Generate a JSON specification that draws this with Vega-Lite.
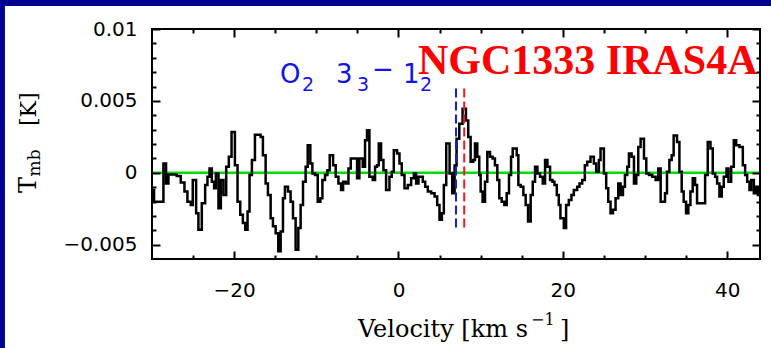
{
  "$schema": "https://vega.github.io/schema/vega-lite/v6.json",
  "width": 608,
  "height": 230,
  "autosize": {"type": "none"},
  "padding": {"left": 152, "top": 29, "right": 11, "bottom": 89},
  "background": "#000090",
  "config": {
    "view": {"stroke": null},
    "axis": {"grid": false, "domain": false, "ticks": true, "tickColor": "black", "tickWidth": 2, "tickOpacity": 1, "labelColor": "black", "labelFont": "DejaVu Sans", "labelFontSize": 20}
  },
  "resolve": {"axis": {"x": "independent", "y": "independent"}},
  "layer": [
    {
      "data": {"values": [{}]},
      "mark": {"type": "rect", "fill": "white"},
      "encoding": {
        "x": {"datum": -47.9, "axis": null},
        "x2": {"datum": 46},
        "y": {"datum": 0.0116, "axis": null},
        "y2": {"datum": -0.014}
      }
    },
    {
      "data": {"values": [{}]},
      "mark": {"type": "rule", "color": "#00dd00", "strokeWidth": 2.5},
      "encoding": {
        "x": {"datum": -30, "axis": {"zindex": 1, "orient": "bottom", "values": [-25, -15, -10, -5, 5, 10, 15, 25, 30, 35], "labels": false, "ticks": true, "tickSize": 4, "offset": -4, "title": null}},
        "x2": {"datum": 44},
        "y": {"datum": 0, "axis": {"zindex": 1, "orient": "left", "values": [-0.004, -0.003, -0.002, -0.001, 0.001, 0.002, 0.003, 0.004, 0.006, 0.007, 0.008, 0.009], "labels": false, "ticks": true, "tickSize": 4, "offset": -4, "title": null}}
      }
    },
    {
      "data": {"values": [
        {"velocity": -30.00, "tmb": -0.00120}, {"velocity": -29.75, "tmb": -0.00201}, {"velocity": -28.61, "tmb": 0.00065}, {"velocity": -28.29, "tmb": -0.00074},
        {"velocity": -28.00, "tmb": -0.00012}, {"velocity": -26.99, "tmb": -0.00023}, {"velocity": -26.50, "tmb": -0.00067}, {"velocity": -26.05, "tmb": -0.00131},
        {"velocity": -25.69, "tmb": -0.00201}, {"velocity": -25.28, "tmb": -0.00224}, {"velocity": -25.04, "tmb": -0.00051}, {"velocity": -24.63, "tmb": -0.00281},
        {"velocity": -24.35, "tmb": -0.00396}, {"velocity": -23.94, "tmb": -0.00212}, {"velocity": -23.53, "tmb": -0.00085}, {"velocity": -23.25, "tmb": -0.00028},
        {"velocity": -23.00, "tmb": 0.00030}, {"velocity": -22.72, "tmb": -0.00062}, {"velocity": -22.44, "tmb": -0.00108}, {"velocity": -22.23, "tmb": -0.00005},
        {"velocity": -21.91, "tmb": -0.00247}, {"velocity": -21.62, "tmb": -0.00051}, {"velocity": -21.30, "tmb": -0.00154}, {"velocity": -20.97, "tmb": 0.00041},
        {"velocity": -20.65, "tmb": 0.00111}, {"velocity": -20.32, "tmb": 0.00284}, {"velocity": -19.91, "tmb": 0.00053}, {"velocity": -19.59, "tmb": -0.00201},
        {"velocity": -19.26, "tmb": -0.00293}, {"velocity": -18.94, "tmb": -0.00350}, {"velocity": -18.65, "tmb": -0.00396}, {"velocity": -18.37, "tmb": -0.00270},
        {"velocity": -18.13, "tmb": -0.00016}, {"velocity": -17.84, "tmb": 0.00088}, {"velocity": -17.47, "tmb": 0.00265}, {"velocity": -16.78, "tmb": 0.00249},
        {"velocity": -16.50, "tmb": 0.00122}, {"velocity": -16.17, "tmb": -0.00074}, {"velocity": -15.89, "tmb": -0.00154}, {"velocity": -15.56, "tmb": -0.00316},
        {"velocity": -15.28, "tmb": -0.00373}, {"velocity": -14.95, "tmb": -0.00420}, {"velocity": -14.63, "tmb": -0.00546}, {"velocity": -14.34, "tmb": -0.00408},
        {"velocity": -14.06, "tmb": -0.00177}, {"velocity": -13.82, "tmb": -0.00097}, {"velocity": -13.45, "tmb": -0.00131}, {"velocity": -13.13, "tmb": -0.00201},
        {"velocity": -12.84, "tmb": -0.00316}, {"velocity": -12.52, "tmb": -0.00535}, {"velocity": -12.19, "tmb": -0.00385}, {"velocity": -11.91, "tmb": -0.00224},
        {"velocity": -11.62, "tmb": -0.00062}, {"velocity": -11.30, "tmb": 0.00041}, {"velocity": -11.05, "tmb": 0.00191}, {"velocity": -10.73, "tmb": 0.00065},
        {"velocity": -10.48, "tmb": -0.00005}, {"velocity": -10.16, "tmb": -0.00016}, {"velocity": -9.83, "tmb": -0.00201}, {"velocity": -9.51, "tmb": -0.00177},
        {"velocity": -9.26, "tmb": -0.00051}, {"velocity": -8.94, "tmb": -0.00016}, {"velocity": -8.65, "tmb": 0.00018}, {"velocity": -8.37, "tmb": 0.00122},
        {"velocity": -7.96, "tmb": 0.00053}, {"velocity": -7.64, "tmb": -0.00028}, {"velocity": -7.31, "tmb": -0.00074}, {"velocity": -6.99, "tmb": -0.00120},
        {"velocity": -6.74, "tmb": -0.00062}, {"velocity": -6.42, "tmb": -0.00074}, {"velocity": -6.09, "tmb": 0.00030}, {"velocity": -5.81, "tmb": 0.00099},
        {"velocity": -5.04, "tmb": -0.00039}, {"velocity": -4.76, "tmb": 0.00099}, {"velocity": -4.35, "tmb": 0.00041}, {"velocity": -4.07, "tmb": 0.00226},
        {"velocity": -3.83, "tmb": 0.00295}, {"velocity": -3.54, "tmb": -0.00028}, {"velocity": -3.13, "tmb": -0.00051}, {"velocity": -2.85, "tmb": 0.00041},
        {"velocity": -2.61, "tmb": 0.00053}, {"velocity": -2.40, "tmb": 0.00203}, {"velocity": -2.12, "tmb": 0.00088}, {"velocity": -1.83, "tmb": 0.00018},
        {"velocity": -1.51, "tmb": -0.00120}, {"velocity": -1.10, "tmb": -0.00028}, {"velocity": -0.82, "tmb": 0.00007}, {"velocity": -0.57, "tmb": 0.00157},
        {"velocity": -0.17, "tmb": 0.00134}, {"velocity": 0.12, "tmb": 0.00065}, {"velocity": 0.40, "tmb": -0.00016}, {"velocity": 0.73, "tmb": -0.00108},
        {"velocity": 1.13, "tmb": -0.00085}, {"velocity": 1.54, "tmb": -0.00039}, {"velocity": 1.87, "tmb": -0.00005}, {"velocity": 2.15, "tmb": -0.00074},
        {"velocity": 2.43, "tmb": -0.00028}, {"velocity": 2.96, "tmb": -0.00062}, {"velocity": 3.25, "tmb": -0.00097}, {"velocity": 3.57, "tmb": -0.00131},
        {"velocity": 3.98, "tmb": -0.00143}, {"velocity": 4.39, "tmb": -0.00166}, {"velocity": 4.71, "tmb": -0.00224}, {"velocity": 4.99, "tmb": -0.00327},
        {"velocity": 5.28, "tmb": -0.00281}, {"velocity": 5.52, "tmb": -0.00085}, {"velocity": 5.81, "tmb": 0.00203}, {"velocity": 6.22, "tmb": -0.00005},
        {"velocity": 6.54, "tmb": -0.00143}, {"velocity": 6.83, "tmb": 0.00050}, {"velocity": 7.07, "tmb": 0.00237}, {"velocity": 7.40, "tmb": 0.00341},
        {"velocity": 7.80, "tmb": 0.00445}, {"velocity": 8.21, "tmb": 0.00364}, {"velocity": 8.49, "tmb": 0.00249}, {"velocity": 8.78, "tmb": 0.00076},
        {"velocity": 9.10, "tmb": 0.00088}, {"velocity": 9.31, "tmb": 0.00203}, {"velocity": 9.59, "tmb": 0.00111}, {"velocity": 9.83, "tmb": -0.00016},
        {"velocity": 10.00, "tmb": -0.00131}, {"velocity": 10.24, "tmb": -0.00201}, {"velocity": 10.53, "tmb": -0.00062}, {"velocity": 10.81, "tmb": 0.00145},
        {"velocity": 11.14, "tmb": 0.00111}, {"velocity": 11.46, "tmb": 0.00099}, {"velocity": 11.74, "tmb": 0.00053}, {"velocity": 12.03, "tmb": -0.00051},
        {"velocity": 12.27, "tmb": -0.00177}, {"velocity": 12.56, "tmb": -0.00201}, {"velocity": 12.88, "tmb": -0.00224}, {"velocity": 13.17, "tmb": -0.00143},
        {"velocity": 13.45, "tmb": -0.00016}, {"velocity": 13.70, "tmb": 0.00111}, {"velocity": 13.90, "tmb": 0.00168}, {"velocity": 14.39, "tmb": 0.00122},
        {"velocity": 14.59, "tmb": -0.00085}, {"velocity": 14.87, "tmb": -0.00097}, {"velocity": 15.20, "tmb": -0.00154}, {"velocity": 15.48, "tmb": -0.00224},
        {"velocity": 15.77, "tmb": -0.00339}, {"velocity": 16.09, "tmb": -0.00154}, {"velocity": 16.34, "tmb": -0.00062}, {"velocity": 16.62, "tmb": 0.00041},
        {"velocity": 16.91, "tmb": -0.00005}, {"velocity": 17.23, "tmb": -0.00028}, {"velocity": 17.56, "tmb": -0.00074}, {"velocity": 17.84, "tmb": 0.00088},
        {"velocity": 18.13, "tmb": 0.00041}, {"velocity": 18.45, "tmb": -0.00051}, {"velocity": 18.74, "tmb": -0.00062}, {"velocity": 18.98, "tmb": -0.00085},
        {"velocity": 19.27, "tmb": -0.00154}, {"velocity": 19.51, "tmb": -0.00224}, {"velocity": 19.71, "tmb": -0.00316}, {"velocity": 20.12, "tmb": -0.00385},
        {"velocity": 20.40, "tmb": -0.00224}, {"velocity": 20.73, "tmb": -0.00189}, {"velocity": 21.05, "tmb": -0.00154}, {"velocity": 21.34, "tmb": -0.00120},
        {"velocity": 21.75, "tmb": -0.00097}, {"velocity": 22.03, "tmb": -0.00074}, {"velocity": 22.36, "tmb": -0.00051}, {"velocity": 22.68, "tmb": 0.00053},
        {"velocity": 22.97, "tmb": 0.00076}, {"velocity": 23.37, "tmb": 0.00111}, {"velocity": 23.78, "tmb": 0.00065}, {"velocity": 24.06, "tmb": 0.00007},
        {"velocity": 24.39, "tmb": 0.00088}, {"velocity": 24.59, "tmb": 0.00168}, {"velocity": 25.00, "tmb": -0.00005}, {"velocity": 25.28, "tmb": -0.00108},
        {"velocity": 25.53, "tmb": -0.00201}, {"velocity": 25.81, "tmb": -0.00281}, {"velocity": 26.10, "tmb": -0.00258}, {"velocity": 26.42, "tmb": -0.00177},
        {"velocity": 26.75, "tmb": -0.00074}, {"velocity": 27.03, "tmb": -0.00154}, {"velocity": 27.32, "tmb": -0.00097}, {"velocity": 27.56, "tmb": -0.00016},
        {"velocity": 27.84, "tmb": 0.00041}, {"velocity": 28.05, "tmb": 0.00134}, {"velocity": 28.37, "tmb": 0.00111}, {"velocity": 28.66, "tmb": -0.00074},
        {"velocity": 28.94, "tmb": -0.00016}, {"velocity": 29.18, "tmb": 0.00180}, {"velocity": 29.47, "tmb": 0.00237}, {"velocity": 29.88, "tmb": 0.00099},
        {"velocity": 30.16, "tmb": -0.00005}, {"velocity": 30.49, "tmb": -0.00016}, {"velocity": 30.89, "tmb": -0.00028}, {"velocity": 31.30, "tmb": -0.00051},
        {"velocity": 31.62, "tmb": 0.00030}, {"velocity": 31.91, "tmb": -0.00201}, {"velocity": 32.44, "tmb": -0.00143}, {"velocity": 32.68, "tmb": 0.00007},
        {"velocity": 32.97, "tmb": 0.00088}, {"velocity": 33.25, "tmb": 0.00122}, {"velocity": 33.49, "tmb": 0.00260}, {"velocity": 33.90, "tmb": 0.00214},
        {"velocity": 34.19, "tmb": 0.00007}, {"velocity": 34.47, "tmb": -0.00131}, {"velocity": 34.71, "tmb": -0.00201}, {"velocity": 35.00, "tmb": -0.00281},
        {"velocity": 35.28, "tmb": -0.00224}, {"velocity": 35.53, "tmb": -0.00131}, {"velocity": 35.81, "tmb": -0.00039}, {"velocity": 36.10, "tmb": -0.00085},
        {"velocity": 36.34, "tmb": -0.00212}, {"velocity": 37.32, "tmb": -0.00016}, {"velocity": 37.64, "tmb": 0.00214}, {"velocity": 37.97, "tmb": 0.00168},
        {"velocity": 38.25, "tmb": -0.00005}, {"velocity": 38.54, "tmb": -0.00028}, {"velocity": 38.78, "tmb": -0.00074}, {"velocity": 39.06, "tmb": -0.00166},
        {"velocity": 39.35, "tmb": -0.00097}, {"velocity": 39.59, "tmb": -0.00028}, {"velocity": 39.92, "tmb": 0.00030}, {"velocity": 40.16, "tmb": -0.00062},
        {"velocity": 40.49, "tmb": 0.00041}, {"velocity": 40.81, "tmb": 0.00226}, {"velocity": 41.10, "tmb": 0.00191}, {"velocity": 41.50, "tmb": 0.00180},
        {"velocity": 41.91, "tmb": 0.00053}, {"velocity": 42.19, "tmb": -0.00016}, {"velocity": 42.44, "tmb": -0.00062}, {"velocity": 42.72, "tmb": -0.00120},
        {"velocity": 42.93, "tmb": -0.00051}, {"velocity": 43.25, "tmb": -0.00143}, {"velocity": 43.54, "tmb": -0.00097}, {"velocity": 43.74, "tmb": -0.00154},
        {"velocity": 44.00, "tmb": -0.00154}
      ]},
      "mark": {"type": "line", "interpolate": "step-after", "color": "black", "strokeWidth": 2.5},
      "encoding": {
        "x": {"field": "velocity", "type": "quantitative", "scale": {"domain": [-30, 44], "nice": false, "zero": false},
              "axis": {"zindex": 1, "orient": "bottom", "values": [-20, 0, 20, 40], "format": "d", "ticks": true, "tickSize": 8, "offset": -8, "labelPadding": 21, "title": null}},
        "y": {"field": "tmb", "type": "quantitative", "scale": {"domain": [-0.006, 0.01], "nice": false, "zero": false},
              "axis": {"zindex": 1, "orient": "left", "values": [-0.005, 0, 0.005, 0.01], "format": "~g", "ticks": true, "tickSize": 8, "offset": -8, "labelPadding": 15, "title": null}}
      }
    },
    {
      "data": {"values": [{}]},
      "mark": {"type": "rule", "color": "#1a1ae6", "strokeWidth": 2, "strokeDash": [9, 4]},
      "encoding": {
        "x": {"datum": 7.0, "axis": {"zindex": 1, "orient": "top", "values": [-20, 0, 20, 40], "labels": false, "ticks": true, "tickSize": 8, "offset": -8, "title": null}},
        "y": {"datum": -0.0038, "axis": {"zindex": 1, "orient": "right", "values": [-0.005, 0, 0.005, 0.01], "labels": false, "ticks": true, "tickSize": 8, "offset": -8, "title": null}},
        "y2": {"datum": 0.0059}
      }
    },
    {
      "data": {"values": [{}]},
      "mark": {"type": "rule", "color": "#e81c1c", "strokeWidth": 2, "strokeDash": [9, 4]},
      "encoding": {
        "x": {"datum": 8.0, "axis": {"zindex": 1, "orient": "top", "values": [-25, -15, -10, -5, 5, 10, 15, 25, 30, 35], "labels": false, "ticks": true, "tickSize": 4, "offset": -4, "title": null}},
        "y": {"datum": -0.0038, "axis": {"zindex": 1, "orient": "right", "values": [-0.004, -0.003, -0.002, -0.001, 0.001, 0.002, 0.003, 0.004, 0.006, 0.007, 0.008, 0.009], "labels": false, "ticks": true, "tickSize": 4, "offset": -4, "title": null}},
        "y2": {"datum": 0.0059}
      }
    },
    {
      "data": {"values": [{}]},
      "mark": {"type": "rect", "fill": null, "stroke": "black", "strokeWidth": 2},
      "encoding": {
        "x": {"datum": -30, "axis": null},
        "x2": {"datum": 44},
        "y": {"datum": 0.01, "axis": null},
        "y2": {"datum": -0.006}
      }
    },
    {
      "data": {"values": [{}]},
      "mark": {"type": "text", "text": "NGC1333 IRAS4A", "font": "Liberation Serif", "fontWeight": "bold", "fontSize": 42, "color": "#ff0000", "align": "left", "baseline": "alphabetic"},
      "encoding": {"x": {"datum": 2.375, "axis": null}, "y": {"datum": 0.00687, "axis": null}}
    },
    {
      "data": {"values": [{}]},
      "mark": {"type": "text", "text": "O", "font": "DejaVu Sans", "fontSize": 26, "color": "#1414e6", "align": "left", "baseline": "alphabetic"},
      "encoding": {"x": {"datum": -14.42, "axis": null}, "y": {"datum": 0.006243, "axis": null}}
    },
    {
      "data": {"values": [{}]},
      "mark": {"type": "text", "text": "2", "font": "DejaVu Sans", "fontSize": 19, "color": "#1414e6", "align": "left", "baseline": "alphabetic"},
      "encoding": {"x": {"datum": -11.74, "axis": null}, "y": {"datum": 0.005687, "axis": null}}
    },
    {
      "data": {"values": [{}]},
      "mark": {"type": "text", "text": "3", "font": "DejaVu Sans", "fontSize": 26, "color": "#1414e6", "align": "left", "baseline": "alphabetic"},
      "encoding": {"x": {"datum": -7.61, "axis": null}, "y": {"datum": 0.006243, "axis": null}}
    },
    {
      "data": {"values": [{}]},
      "mark": {"type": "text", "text": "3", "font": "DejaVu Sans", "fontSize": 19, "color": "#1414e6", "align": "left", "baseline": "alphabetic"},
      "encoding": {"x": {"datum": -5.05, "axis": null}, "y": {"datum": 0.005687, "axis": null}}
    },
    {
      "data": {"values": [{}]},
      "mark": {"type": "text", "text": "−", "font": "DejaVu Sans", "fontSize": 26, "color": "#1414e6", "align": "left", "baseline": "alphabetic"},
      "encoding": {"x": {"datum": -3.22, "axis": null}, "y": {"datum": 0.006591, "axis": null}}
    },
    {
      "data": {"values": [{}]},
      "mark": {"type": "text", "text": "1", "font": "DejaVu Sans", "fontSize": 26, "color": "#1414e6", "align": "left", "baseline": "alphabetic"},
      "encoding": {"x": {"datum": 0.55, "axis": null}, "y": {"datum": 0.006243, "axis": null}}
    },
    {
      "data": {"values": [{}]},
      "mark": {"type": "text", "text": "2", "font": "DejaVu Sans", "fontSize": 19, "color": "#1414e6", "align": "left", "baseline": "alphabetic"},
      "encoding": {"x": {"datum": 2.62, "axis": null}, "y": {"datum": 0.005687, "axis": null}}
    },
    {
      "data": {"values": [{}]},
      "mark": {"type": "text", "text": "Velocity [km s", "font": "DejaVu Serif", "fontSize": 24, "color": "black", "align": "right", "baseline": "alphabetic"},
      "encoding": {"x": {"datum": 15.76, "axis": null}, "y": {"datum": -0.011426, "axis": null}}
    },
    {
      "data": {"values": [{}]},
      "mark": {"type": "text", "text": "−1", "font": "DejaVu Serif", "fontSize": 16, "color": "black", "align": "left", "baseline": "alphabetic"},
      "encoding": {"x": {"datum": 16.13, "axis": null}, "y": {"datum": -0.010591, "axis": null}}
    },
    {
      "data": {"values": [{}]},
      "mark": {"type": "text", "text": "]", "font": "DejaVu Serif", "fontSize": 24, "color": "black", "align": "left", "baseline": "alphabetic"},
      "encoding": {"x": {"datum": 19.66, "axis": null}, "y": {"datum": -0.011426, "axis": null}}
    },
    {
      "data": {"values": [{}]},
      "mark": {"type": "text", "text": "T", "font": "DejaVu Serif", "fontSize": 24, "color": "black", "align": "left", "baseline": "alphabetic", "angle": 270},
      "encoding": {"x": {"datum": -44.12, "axis": null}, "y": {"datum": -0.001409, "axis": null}}
    },
    {
      "data": {"values": [{}]},
      "mark": {"type": "text", "text": "mb", "font": "DejaVu Serif", "fontSize": 17, "color": "black", "align": "left", "baseline": "alphabetic", "angle": 270},
      "encoding": {"x": {"datum": -43.6, "axis": null}, "y": {"datum": -0.00026, "axis": null}}
    },
    {
      "data": {"values": [{}]},
      "mark": {"type": "text", "text": "[K]", "font": "DejaVu Serif", "fontSize": 22, "color": "black", "align": "left", "baseline": "alphabetic", "angle": 270},
      "encoding": {"x": {"datum": -44.12, "axis": null}, "y": {"datum": 0.003252, "axis": null}}
    }
  ]
}
